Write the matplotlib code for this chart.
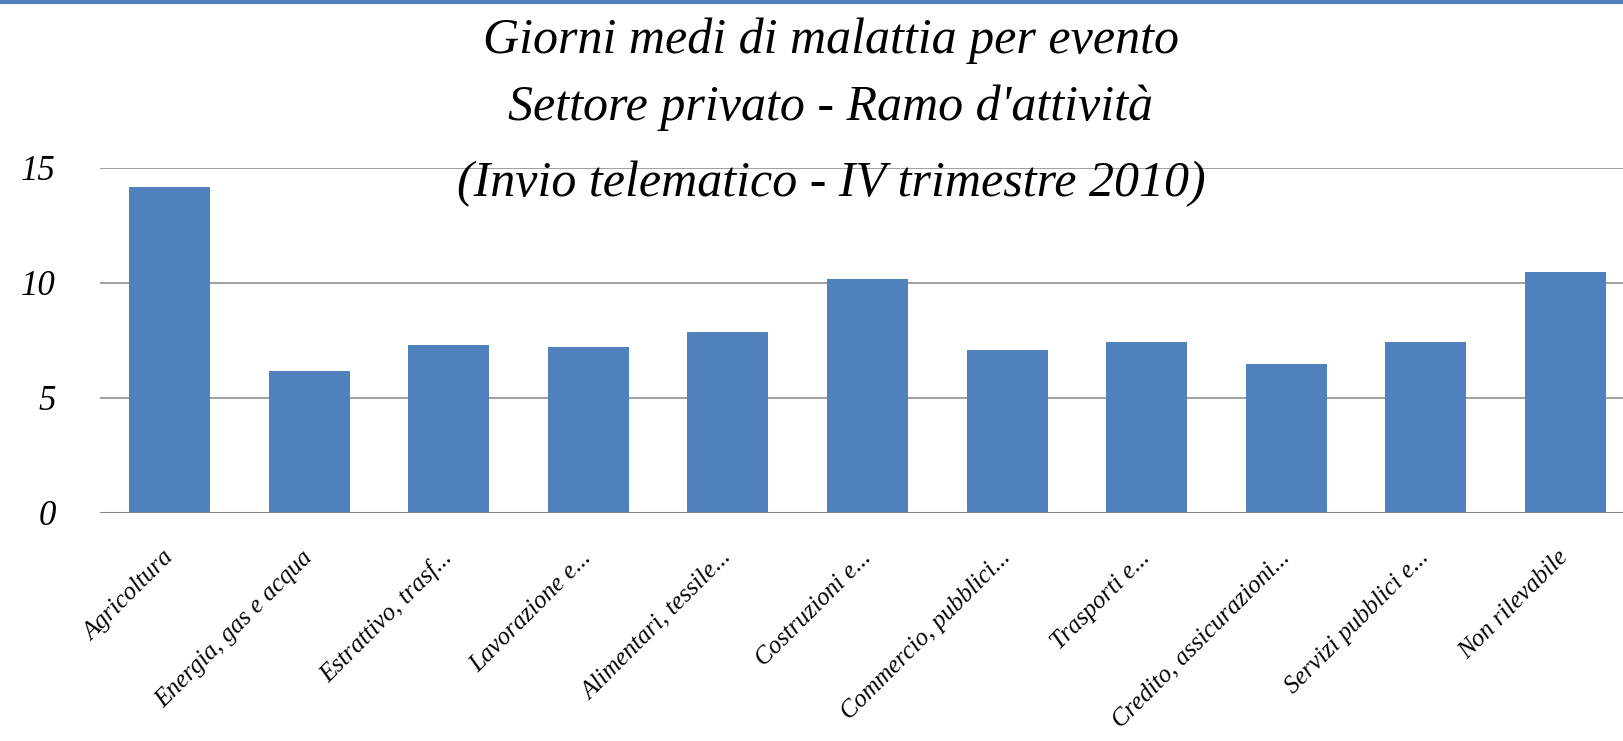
import numpy as np
import matplotlib
matplotlib.use("Agg")
import matplotlib.pyplot as plt
from matplotlib.lines import Line2D

categories = ["Agricoltura", "Energia, gas e acqua", "Estrattivo, trasf...",
              "Lavorazione e...", "Alimentari, tessile...", "Costruzioni e...",
              "Commercio, pubblici...", "Trasporti e...", "Credito, assicurazioni...",
              "Servizi pubblici e...", "Non rilevabile"]
giorni = [14.16, 6.16, 7.29, 7.20, 7.86, 10.16, 7.07, 7.42, 6.47, 7.42, 10.47]
yticks = [0, 5, 10, 15]
title_lines = ["Giorni medi di malattia per evento",
               "Settore privato - Ramo d'attività",
               "(Invio telematico - IV trimestre 2010)"]

blue = "#4F81BD"
grid = "#868686"
font = "Liberation Serif"

fig = plt.figure(figsize=(16.23, 7.41), dpi=100)
ax = fig.add_axes([100 / 1623, 228.3 / 741, 1535 / 1623, 344.7 / 741])

x = np.arange(len(categories))
ax.bar(x, giorni, width=0.58, color=blue, zorder=2)
ax.set_xlim(-0.5, len(categories) - 0.5)
ax.set_ylim(0, 15)
ax.set_yticks(yticks)
ax.set_yticklabels([str(v) for v in yticks], fontsize=25, style="italic", family=font)
ax.yaxis.grid(True, color=grid, linewidth=1.1, zorder=0)
ax.set_axisbelow(True)
ax.axhline(0, color=grid, linewidth=2.2, zorder=3)
for s in ax.spines.values():
    s.set_visible(False)
ax.tick_params(axis="y", length=0, pad=32)
ax.tick_params(axis="x", length=0, pad=30)
ax.set_xticks(x)
ax.set_xticklabels(categories, rotation=45, ha="right", va="center",
                   rotation_mode="anchor", fontsize=18, style="italic", family=font)

# titolo
ys = [0.945, 0.855, 0.752]
for t, yy in zip(title_lines, ys):
    fig.text(0.512, yy, t, ha="center", va="center", fontsize=36,
             style="italic", family=font, zorder=5)

# linea blu in alto
fig.add_artist(Line2D([0, 1], [0.9975, 0.9975], transform=fig.transFigure,
                      color=blue, linewidth=3))

fig.savefig("out.png", dpi=100)
